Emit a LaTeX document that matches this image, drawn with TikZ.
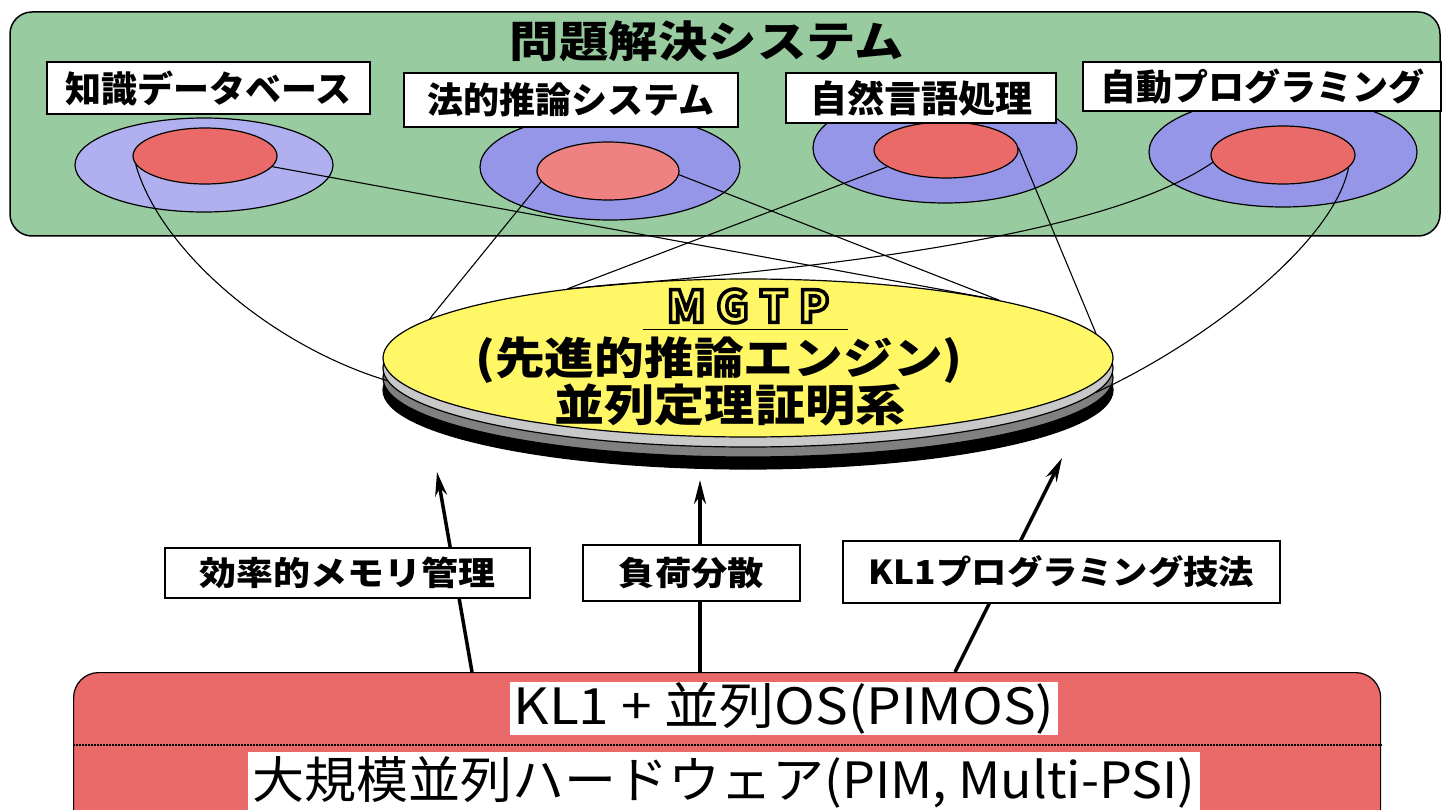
\documentclass[tikz,border=0pt]{standalone}
\usepackage{fontspec}
\setmainfont{Noto Sans CJK JP}
\usepackage{graphicx}
\usetikzlibrary{shapes.geometric,arrows.meta}
\definecolor{greenbg}{RGB}{152,204,160}
\definecolor{lav}{RGB}{176,176,240}
\definecolor{blu}{RGB}{150,150,232}
\definecolor{redc}{RGB}{234,106,106}
\definecolor{pinkc}{RGB}{238,130,130}
\definecolor{yel}{RGB}{255,247,102}
\definecolor{lgrey}{RGB}{200,200,200}
\definecolor{dgrey}{RGB}{128,128,128}
\newcommand{\myfs}[1]{\fontsize{#1pt}{#1pt}\selectfont}
\newcommand{\hsc}[2]{\scalebox{#1}[1]{#2}}
\newcommand{\hollow}[1]{\special{pdf:literal direct 1 Tr 3.6 w}#1\special{pdf:literal direct 0 Tr 1 w}}
\begin{document}
\begin{tikzpicture}[x=1pt,y=-1pt,
  ell/.style={ellipse, draw=black, line width=1.2pt, inner sep=0pt},
  lbl/.style={draw=black, line width=2pt, fill=white, inner sep=0pt, font=\bfseries},
  wbox/.style={fill=white, inner sep=0pt},
  wire/.style={draw=black, line width=1.1pt},
  arr/.style={draw=black, line width=3.5pt, -{Stealth[length=24pt,width=12pt]}},
  ]
\clip (0,0) rectangle (1451,810);
\fill[white] (0,0) rectangle (1451,810);
% problem solving system panel
\node[draw=black, line width=1.5pt, fill=greenbg, rounded corners=22pt, minimum width=1430pt, minimum height=224pt, inner sep=0pt] (pss) at (725,124) {};
\node[font=\bfseries\myfs{43}] (title) at (707,41) {\hsc{1.15}{問題解決システム}};
% outer ellipses
\node[ell, fill=lav, minimum width=258pt, minimum height=94pt] (o1) at (204,165) {};
\node[ell, fill=blu, minimum width=260pt, minimum height=106pt] (o2) at (610,167) {};
\node[ell, fill=blu, minimum width=264pt, minimum height=110pt] (o3) at (945,148) {};
\node[ell, fill=blu, minimum width=268pt, minimum height=110pt] (o4) at (1283,152) {};
% inner ellipses
\node[ell, fill=redc, minimum width=144pt, minimum height=56pt] (i1) at (205,156) {};
\node[ell, fill=pinkc, minimum width=142pt, minimum height=58pt] (i2) at (608,171) {};
\node[ell, fill=redc, minimum width=144pt, minimum height=56pt] (i3) at (946,150) {};
\node[ell, fill=redc, minimum width=144pt, minimum height=58pt] (i4) at (1283,155) {};
% labels
\node[lbl, minimum width=323pt, minimum height=52pt] (l1) at (208.5,88) {\myfs{36}知識データベース};
\node[lbl, minimum width=334pt, minimum height=54pt] (l2) at (571,100) {\myfs{36}法的推論システム};
\node[lbl, minimum width=270pt, minimum height=50pt] (l3) at (921,98) {\myfs{37}自然言語処理};
\node[lbl, minimum width=358pt, minimum height=49pt] (l4) at (1262,86.5) {\myfs{36}自動プログラミング};
% MGTP disc
\node[ell, fill=black, minimum width=730pt, minimum height=158pt] (dk) at (748,390) {};
\node[ell, fill=dgrey, minimum width=730pt, minimum height=158pt] (dg) at (748,378) {};
\node[ell, fill=lgrey, minimum width=730pt, minimum height=158pt] (lg) at (748,368) {};
\node[ell, fill=yel, minimum width=730pt, minimum height=158pt] (disc) at (748,358) {};
% wires
\draw[wire] (i1.187) .. controls (160,250) and (270,345) .. (lg.182);
\draw[wire] (i1.351) -- (disc.13);
\draw[wire] (i2.189) -- (disc.173);
\draw[wire] (i2.357) -- (disc.13);
\draw[wire] (i3.196) -- (disc.159);
\draw[wire] (i3.2) -- (disc.4);
\draw[wire] (i4.186) .. controls (1100,240) and (800,270) .. (disc.159);
\draw[wire] (i4.349) .. controls (1333,245) and (1200,345) .. (lg.356);
% disc text
\node[font=\bfseries\myfs{44}] (mgtp) at (748,306) {\hollow{M\kern11pt G\kern11pt T\kern11pt P}};
\draw[line width=1.5pt] ([xshift=-105pt,yshift=-3pt]mgtp.south) -- ([xshift=100pt,yshift=-3pt]mgtp.south);
\node[font=\bfseries\myfs{44}] (eng) at (719,360) {\hsc{1.13}{(先進的推論エンジン)}};
\node[font=\bfseries\myfs{44}] (ptp) at (730,405) {\hsc{1.14}{並列定理証明系}};
% hardware box
\node[draw=black, line width=1.2pt, fill=redc, rounded corners=25pt, minimum width=1307pt, minimum height=180pt, inner sep=0pt, anchor=north west] (hw) at (73,672) {};
\draw[line width=1.5pt, dash pattern=on 1.5pt off 1.5pt] ([yshift=-73pt]hw.north west) -- ([yshift=-73pt]hw.north east);
\node[wbox, minimum width=548pt, minimum height=53pt, font=\myfs{50}] (os) at (784,708.5) {\hsc{1.1}{KL1 + 並列OS(PIMOS)}};
\node[wbox, minimum width=952pt, minimum height=60pt, font=\myfs{50}] (pim) at (724,782) {\hsc{1.04}{大規模並列ハードウェア(PIM, Multi-PSI)}};
% arrows
\coordinate (t1) at (437,472);
\coordinate (t2) at (700,480);
\coordinate (t3) at (1062,458);
\draw[arr] ([xshift=399pt]hw.north west) -- (t1);
\draw[arr] ([xshift=627pt]hw.north west) -- (t2);
\draw[arr] ([xshift=882pt]hw.north west) -- (t3);
% technique labels
\node[lbl, minimum width=365pt, minimum height=50pt] (b1) at (347.5,573) {\myfs{33}\hsc{1.12}{効率的メモリ管理}};
\node[lbl, minimum width=217pt, minimum height=56pt] (b2) at (691.5,573) {\myfs{33}\hsc{1.1}{負荷分散}};
\node[lbl, minimum width=437pt, minimum height=62pt] (b3) at (1061.5,572) {\myfs{33}\hsc{1.07}{KL1プログラミング技法}};
\end{tikzpicture}
\end{document}
